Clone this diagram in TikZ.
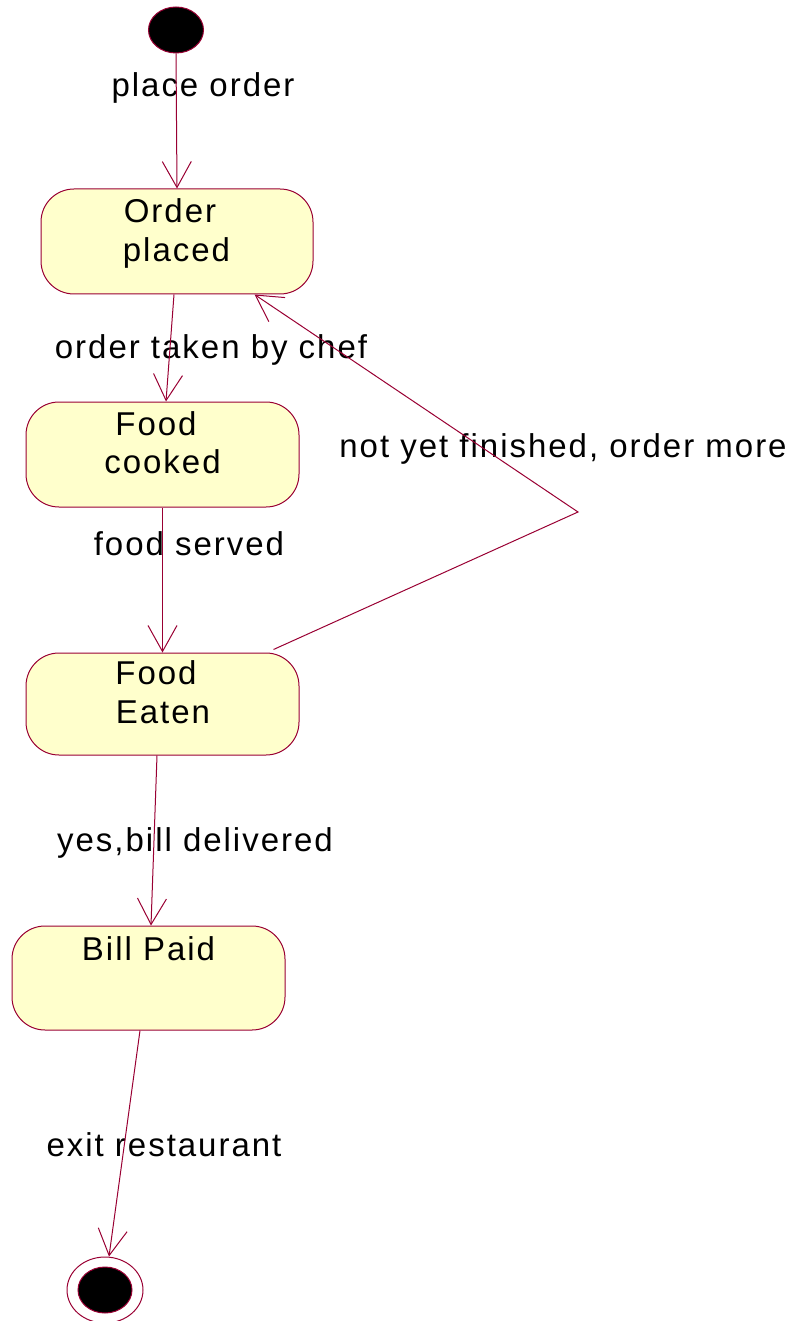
\documentclass[tikz,border=0pt]{standalone}
\usepackage{fontspec}
\setmainfont{Liberation Sans}[LetterSpace=6.0]
\usetikzlibrary{shapes.geometric,arrows.meta,calc}
\definecolor{umlline}{HTML}{990033}
\definecolor{umlfill}{HTML}{FFFFCC}
\tikzset{
  statebox/.style={draw=umlline, fill=umlfill, line width=1pt, rounded corners=33pt,
    minimum width=273pt, minimum height=105pt, inner sep=0pt},
  txt/.style={anchor=base, inner sep=0pt, font=\fontsize{33}{40}\selectfont},
  conn/.style={draw=umlline, line width=1pt, -{Straight Barb[length=26pt,width=29pt,line width=1pt]}},
  plainline/.style={draw=umlline, line width=1pt},
}
\begin{document}
\begin{tikzpicture}[x=1pt,y=-1pt]
\useasboundingbox (0,0) rectangle (793,1321);
% states
\node[ellipse, draw=umlline, fill=black, line width=1pt, minimum width=55pt, minimum height=46pt, inner sep=0pt] (init) at (176,30) {};
\node[statebox, minimum width=272pt] (op) at (177,241.5) {};
\node[statebox] (fc) at (162.5,454.5) {};
\node[statebox, minimum height=102pt] (fe) at (162.5,704) {};
\node[statebox, minimum height=104pt] (bp) at (148.5,978) {};
\node[ellipse, draw=umlline, line width=1pt, minimum width=76pt, minimum height=66pt, inner sep=0pt] (fin) at (105,1290) {};
\node[ellipse, draw=umlline, fill=black, line width=1pt, minimum width=54pt, minimum height=46pt, inner sep=0pt] (finin) at (105,1290) {};
% state texts
\node[txt] (t1a) at (170,223) {Order};
\node[txt] (t1b) at (176.5,262) {placed};
\node[txt] (t2a) at (156,435) {Food};
\node[txt] (t2b) at (162.5,473) {cooked};
\node[txt] (t3a) at (156,684) {Food};
\node[txt] (t3b) at (163,723) {Eaten};
\node[txt] (t4a) at (148.5,960) {Bill Paid};
% transition labels
\node[txt] (l1) at (203,97) {place order};
\node[txt] (l2) at (211,358) {order taken by chef};
\node[txt] (l3) at (189,555) {food served};
\node[txt] (l4) at (563,457) {not yet finished, order more};
\node[txt] (l5) at (195,851) {yes,bill delivered};
\node[txt] (l6) at (164,1156) {exit restaurant};
% connectors
\coordinate (bend) at (578,512);
\draw[conn] (init.south) -- (op.north);
\draw[conn] ([xshift=-3pt]op.south) -- ([xshift=3.5pt]fc.north);
\draw[conn] (fc.south) -- (fe.north);
\draw[conn] ([xshift=-26pt,yshift=3pt]fe.north east) -- (bend) -- ([xshift=-59pt]op.south east);
\draw[conn] ([xshift=-5.5pt]fe.south) -- ([xshift=2.5pt]bp.north);
\draw[conn] ([xshift=-8.5pt]bp.south) -- ([xshift=4pt]fin.north);
\end{tikzpicture}
\end{document}
